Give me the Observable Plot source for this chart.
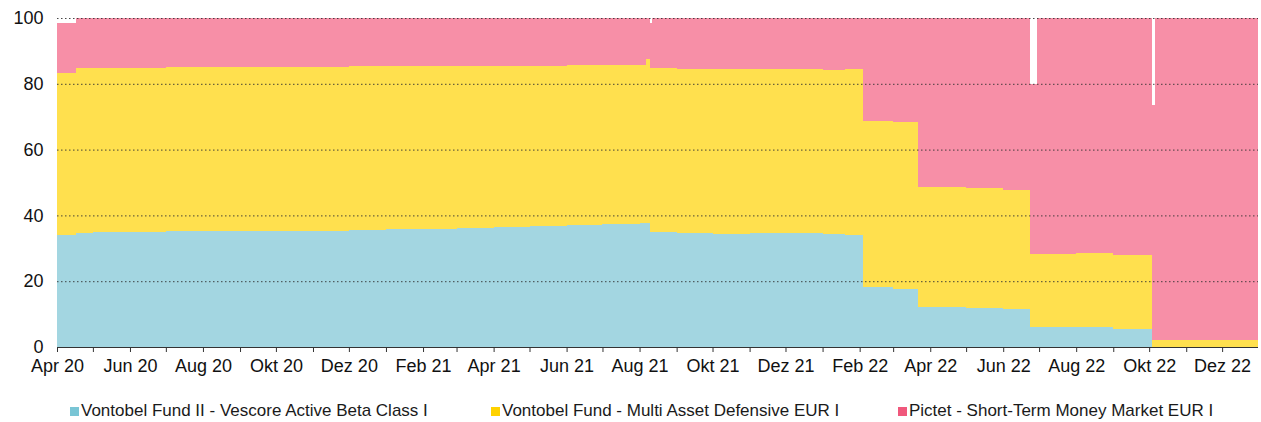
<!DOCTYPE html>
<html><head><meta charset="utf-8">
<script src="https://cdn.jsdelivr.net/npm/d3@7"></script>
<script src="https://cdn.jsdelivr.net/npm/@observablehq/plot@0.6"></script>
<style>
body{margin:0;background:#fff;font-family:"Liberation Sans",Arial,sans-serif;}
#wrap{position:relative;width:1261px;height:422px;overflow:hidden;}
#legend{position:absolute;left:0;top:401px;width:1261px;height:20px;}
.item{position:absolute;top:0;display:flex;align-items:center;white-space:nowrap;font-size:17px;line-height:20px;color:#1a1a1a;font-family:"Liberation Sans",Arial,sans-serif;}
.sw{width:9px;height:9px;margin-right:2px;display:inline-block;flex:none;}
</style></head><body>
<div id="wrap"><div id="chart"></div><div id="legend"></div></div>
<script>
const funds = [
  "Vontobel Fund II - Vescore Active Beta Class I",
  "Vontobel Fund - Multi Asset Defensive EUR I",
  "Pictet - Short-Term Money Market EUR I"
];
// start date of each period (period ends at the next start)
const periodStart = [
  "2020-04-01","2020-04-17","2020-05-01","2020-06-01","2020-07-01","2020-08-01","2020-09-01",
  "2020-10-01","2020-11-01","2020-12-01","2021-01-01","2021-02-01","2021-03-01","2021-04-01",
  "2021-05-01","2021-06-01","2021-07-01","2021-08-01","2021-08-06","2021-08-10","2021-08-11",
  "2021-09-01","2021-10-01","2021-11-01","2021-12-01","2022-01-01","2022-01-20","2022-02-04",
  "2022-03-01","2022-03-22","2022-05-01","2022-06-01","2022-06-23","2022-06-29","2022-08-01",
  "2022-09-01","2022-10-03","2022-10-06"
];
const lastEnd = "2022-12-31";
// share of each fund in percent
const vescore = [
  34.0,34.8,35.0,35.1,35.3,35.3,35.4,
  35.2,35.4,35.7,35.8,36.0,36.2,36.5,
  36.8,37.0,37.4,37.6,37.6,34.9,34.9,
  34.6,34.3,34.5,34.7,34.4,33.9,18.2,
  17.6,12.1,11.8,11.6,6.0,6.1,6.0,
  5.6,0,0
];
const defensive = [
  49.4,49.9,49.8,49.8,49.7,49.8,49.7,
  50.0,49.8,49.6,49.5,49.4,49.2,49.0,
  48.7,48.6,48.3,48.1,50.0,49.8,49.8,
  50.0,50.3,50.0,49.8,49.9,50.5,50.6,
  50.8,36.5,36.4,36.2,22.3,22.3,22.6,
  22.5,2.0,2.0
];
const pictet = [
  15.0,15.3,15.2,15.1,15.0,14.9,14.9,
  14.8,14.8,14.7,14.7,14.6,14.6,14.5,
  14.5,14.4,14.3,14.3,12.4,13.8,15.3,
  15.4,15.4,15.5,15.5,15.7,15.6,31.2,
  31.6,51.4,51.8,52.2,51.7,71.6,71.4,
  71.9,71.6,98.0
];
const monthLabels = ["Jan","Feb","Mär","Apr","Mai","Jun","Jul","Aug","Sep","Okt","Nov","Dez"];
const yTicks = [0,20,40,60,80,100];
const fillColors = ["#a3d6e1","#ffe04e","#f78fa7"];
const swatchColors = ["#79c5d5","#ffd200","#f0587c"];

const series = [vescore, defensive, pictet];
const rows = [];
periodStart.forEach((s, i) => {
  const start = new Date(s);
  const end = new Date(i + 1 < periodStart.length ? periodStart[i + 1] : lastEnd);
  funds.forEach((f, k) => rows.push({start, end, fund: f, value: series[k][i]}));
});

const xStart = new Date("2020-04-01"), xEnd = new Date(lastEnd);
const monthTicks = d3.utcMonth.range(xStart, new Date("2022-12-02"));

const chart = Plot.plot({
  width: 1261,
  height: 385,
  marginTop: 18,
  marginBottom: 38,
  marginLeft: 57,
  marginRight: 3,
  style: {fontSize: "18px", fontFamily: "'Liberation Sans', Arial, sans-serif", color: "#111", background: "#fff"},
  x: {type: "utc", domain: [xStart, xEnd]},
  y: {domain: [0, 100]},
  color: {domain: funds, range: fillColors},
  marks: [
    Plot.rectY(rows, {x1: "start", x2: "end", y: "value", fill: "fund", shapeRendering: "crispEdges"}),
    Plot.gridY(yTicks.filter(v => v > 0), {stroke: "#333", strokeOpacity: 0.9, strokeDasharray: "1.5,2.5"}),
    Plot.ruleY([0], {stroke: "#333"}),
    Plot.axisY({ticks: yTicks, tickSize: 0, tickPadding: 14, label: null}),
    Plot.axisX({ticks: monthTicks, tickSize: 5, tickPadding: 7, label: null, stroke: "#333",
      tickFormat: d => d.getUTCMonth() % 2 === 1 ? `${monthLabels[d.getUTCMonth()]} ${String(d.getUTCFullYear()).slice(2)}` : ""})
  ]
});
document.getElementById("chart").appendChild(chart);

const legendLeft = [70, 491, 898];
const legend = document.getElementById("legend");
funds.forEach((f, k) => {
  const it = document.createElement("div");
  it.className = "item";
  it.style.left = legendLeft[k] + "px";
  const sw = document.createElement("span");
  sw.className = "sw";
  sw.style.background = swatchColors[k];
  const tx = document.createElement("span");
  tx.textContent = f;
  it.appendChild(sw);
  it.appendChild(tx);
  legend.appendChild(it);
});
</script>
</body></html>
